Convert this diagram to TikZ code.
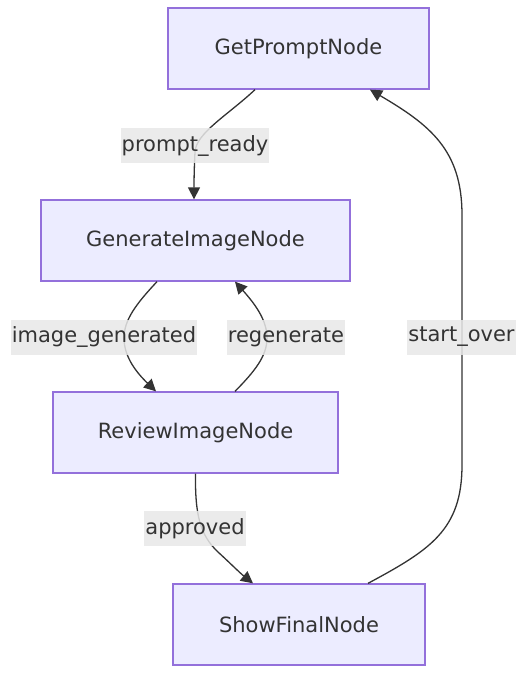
\documentclass[tikz,border=0pt]{standalone}
\usepackage{fontspec}
\setmainfont{DejaVu Sans}
\usetikzlibrary{arrows.meta,calc}
\definecolor{nodefill}{HTML}{ECECFF}
\definecolor{nodeline}{HTML}{9370DB}
\definecolor{edgecol}{HTML}{333333}
\definecolor{lblfill}{HTML}{E8E8E8}
\tikzset{
  box/.style={draw=nodeline, fill=nodefill, line width=1.3pt, minimum height=81pt,
    inner sep=0pt, text=edgecol, font=\fontsize{21}{24}\selectfont},
  edge/.style={draw=edgecol, line width=1.3pt, -{Triangle[length=12pt,width=12pt]}},
  lbl/.style={fill=lblfill, fill opacity=0.85, text opacity=1, text=edgecol, inner xsep=1pt,
    inner ysep=0pt, minimum height=35pt, font=\fontsize{21}{24}\selectfont}
}
\begin{document}
\begin{tikzpicture}[x=1pt,y=-1pt]
\useasboundingbox (0,0) rectangle (529,678);
\node[box, minimum width=261pt] (gp) at (298.5,48.5) {GetPromptNode};
\node[box, minimum width=309pt] (gen) at (195.5,240.5) {GenerateImageNode};
\node[box, minimum width=285pt] (rev) at (195.5,432.5) {ReviewImageNode};
\node[box, minimum width=252pt] (sf) at (299,624.5) {ShowFinalNode};
% edges
\draw[edge] ($(gp.south)+(-43.5,0)$) .. controls (228,115) and (196,133) .. (195,152)
   .. controls (194,172) and (194,185) .. ($(gen.north)+(-1.5,0)$);
\draw[edge] ($(gen.south)+(-38.5,0)$) .. controls (136,304) and (124,320) .. (124,338)
   .. controls (124,358) and (138,374) .. ($(rev.north)+(-39.5,0)$);
\draw[edge] ($(rev.north)+(39.5,0)$) .. controls (255,371) and (267,356) .. (267,338)
   .. controls (267,320) and (255,304) .. ($(gen.south)+(39.5,0)$);
\draw[edge] (rev.south) .. controls (195,515) and (200,535) .. (218,552)
   .. controls (230,563) and (240,573) .. ($(sf.north)+(-46,0)$);
\draw[edge] ($(sf.north)+(69,0)$) .. controls (430,550) and (462,530) .. (462,465)
   -- (462,215) .. controls (462,150) and (430,125) .. ($(gp.south)+(71.5,0)$);
% labels
\node[lbl] (l1) at (195,145.5) {prompt\_ready};
\node[lbl] (l2) at (104,337) {image\_generated};
\node[lbl] (l3) at (286,337) {regenerate};
\node[lbl] (l4) at (461.5,337) {start\_over};
\node[lbl] (l5) at (195,528.5) {approved};
\end{tikzpicture}
\end{document}
